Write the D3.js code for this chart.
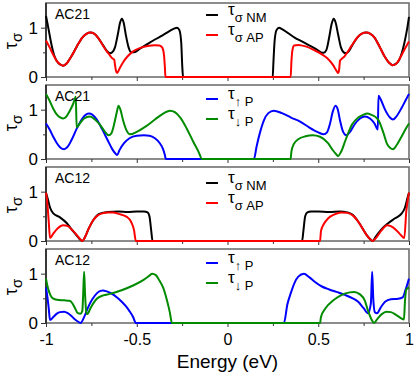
<!DOCTYPE html>
<meta charset="utf-8">
<script src="https://d3js.org/d3.v7.min.js"></script>
<title>Transmission vs energy</title>
<head>
<style>
  body { margin: 0; background: white; }
  text { font-family: "Liberation Sans", Arial, sans-serif; }
</style>
</head>
<div id="chart"></div>
<script>
// ---- data ----
var ac21NM = [[-1,1.24],[-0.985,0.95],[-0.97,0.66],[-0.955,0.44],[-0.94,0.32],[-0.92,0.25],[-0.905,0.23],[-0.885,0.28],[-0.86,0.42],[-0.83,0.62],[-0.8,0.8],[-0.775,0.88],[-0.755,0.9],[-0.735,0.88],[-0.71,0.78],[-0.685,0.64],[-0.665,0.53],[-0.648,0.48],[-0.635,0.5],[-0.62,0.6],[-0.605,0.85],[-0.592,1.1],[-0.582,1.18],[-0.572,1.1],[-0.56,0.85],[-0.545,0.6],[-0.53,0.5],[-0.515,0.5],[-0.48,0.58],[-0.44,0.67],[-0.4,0.76],[-0.36,0.84],[-0.32,0.93],[-0.295,0.98],[-0.278,1.0],[-0.265,0.95],[-0.255,0.7],[-0.249,0.2],[-0.245,0],
  [0.249,0],[0.253,0.3],[0.26,0.75],[0.27,0.95],[0.284,1.0],[0.3,0.97],[0.33,0.9],[0.37,0.8],[0.41,0.72],[0.45,0.64],[0.49,0.56],[0.515,0.5],[0.53,0.49],[0.545,0.55],[0.56,0.8],[0.574,1.08],[0.585,1.18],[0.596,1.1],[0.61,0.85],[0.625,0.6],[0.64,0.5],[0.655,0.48],[0.67,0.53],[0.69,0.66],[0.715,0.8],[0.74,0.88],[0.765,0.9],[0.785,0.88],[0.81,0.8],[0.84,0.6],[0.865,0.42],[0.89,0.29],[0.91,0.24],[0.925,0.26],[0.945,0.34],[0.96,0.48],[0.975,0.7],[0.99,0.98],[1,1.22]];
var ac21AP = [[-1,0.74],[-0.98,0.6],[-0.96,0.45],[-0.94,0.32],[-0.92,0.25],[-0.905,0.23],[-0.885,0.28],[-0.86,0.42],[-0.83,0.62],[-0.8,0.8],[-0.775,0.88],[-0.755,0.9],[-0.735,0.88],[-0.71,0.78],[-0.685,0.63],[-0.665,0.52],[-0.648,0.44],[-0.635,0.38],[-0.624,0.35],[-0.62,0.25],[-0.614,0.12],[-0.608,0.08],[-0.595,0.17],[-0.575,0.3],[-0.55,0.42],[-0.52,0.52],[-0.48,0.59],[-0.44,0.63],[-0.4,0.645],[-0.375,0.64],[-0.36,0.6],[-0.35,0.45],[-0.345,0.2],[-0.342,0],
  [0.348,0],[0.352,0.3],[0.358,0.55],[0.367,0.64],[0.39,0.65],[0.43,0.62],[0.48,0.54],[0.52,0.46],[0.55,0.38],[0.58,0.25],[0.6,0.13],[0.609,0.08],[0.615,0.15],[0.62,0.33],[0.63,0.37],[0.645,0.42],[0.66,0.5],[0.685,0.64],[0.715,0.8],[0.74,0.88],[0.765,0.9],[0.785,0.88],[0.81,0.8],[0.84,0.6],[0.865,0.42],[0.89,0.29],[0.91,0.24],[0.93,0.27],[0.95,0.38],[0.97,0.52],[1,0.72]];
var ac21Up = [[-1,0.72],[-0.98,0.6],[-0.96,0.45],[-0.94,0.32],[-0.92,0.23],[-0.9,0.2],[-0.88,0.25],[-0.86,0.38],[-0.83,0.62],[-0.8,0.82],[-0.78,0.9],[-0.763,0.92],[-0.745,0.9],[-0.72,0.8],[-0.69,0.6],[-0.66,0.38],[-0.635,0.2],[-0.615,0.1],[-0.608,0.08],[-0.595,0.18],[-0.57,0.32],[-0.54,0.42],[-0.5,0.47],[-0.46,0.48],[-0.43,0.47],[-0.4,0.42],[-0.375,0.33],[-0.355,0.2],[-0.345,0.08],[-0.34,0],
  [0.146,0],[0.16,0.25],[0.18,0.55],[0.2,0.78],[0.225,0.93],[0.255,0.98],[0.3,0.93],[0.35,0.84],[0.4,0.76],[0.45,0.64],[0.5,0.54],[0.53,0.5],[0.548,0.54],[0.565,0.72],[0.58,0.96],[0.595,1.08],[0.608,1.0],[0.62,0.78],[0.635,0.57],[0.655,0.48],[0.675,0.55],[0.7,0.7],[0.73,0.82],[0.757,0.86],[0.785,0.82],[0.81,0.72],[0.828,0.6],[0.832,1.28],[0.845,1.2],[0.868,1.0],[0.895,0.84],[0.912,0.8],[0.93,0.86],[0.96,1.04],[0.98,1.18],[1,1.32]];
var ac21Dn = [[-1,1.32],[-0.98,1.18],[-0.96,1.02],[-0.94,0.9],[-0.92,0.84],[-0.906,0.82],[-0.89,0.85],[-0.87,0.97],[-0.85,1.12],[-0.836,1.26],[-0.831,0.64],[-0.81,0.74],[-0.79,0.82],[-0.758,0.86],[-0.73,0.8],[-0.7,0.68],[-0.675,0.55],[-0.655,0.48],[-0.64,0.52],[-0.625,0.7],[-0.61,0.95],[-0.6,1.08],[-0.59,1.0],[-0.575,0.78],[-0.555,0.57],[-0.537,0.5],[-0.5,0.55],[-0.45,0.66],[-0.4,0.8],[-0.35,0.93],[-0.317,0.98],[-0.29,0.95],[-0.26,0.84],[-0.225,0.62],[-0.19,0.36],[-0.16,0.15],[-0.14,0],
  [0.348,0],[0.352,0.15],[0.365,0.3],[0.39,0.4],[0.43,0.46],[0.47,0.48],[0.51,0.45],[0.554,0.32],[0.58,0.18],[0.6,0.09],[0.609,0.06],[0.625,0.14],[0.65,0.38],[0.686,0.7],[0.72,0.84],[0.75,0.9],[0.77,0.92],[0.79,0.9],[0.83,0.8],[0.86,0.52],[0.88,0.3],[0.912,0.2],[0.935,0.3],[0.96,0.46],[0.98,0.6],[1,0.72]];

var ac12NM = [[-1,0.98],[-0.99,0.85],[-0.978,0.68],[-0.96,0.56],[-0.923,0.48],[-0.885,0.36],[-0.86,0.24],[-0.835,0.13],[-0.815,0.04],[-0.8,0],[-0.785,0.08],[-0.765,0.25],[-0.74,0.42],[-0.715,0.53],[-0.69,0.57],[-0.66,0.59],[-0.6,0.6],[-0.55,0.59],[-0.5,0.6],[-0.46,0.6],[-0.44,0.58],[-0.43,0.5],[-0.42,0.2],[-0.413,0],
  [0.411,0],[0.418,0.2],[0.428,0.5],[0.44,0.58],[0.46,0.6],[0.5,0.6],[0.56,0.59],[0.62,0.6],[0.66,0.58],[0.69,0.53],[0.715,0.42],[0.74,0.28],[0.765,0.13],[0.785,0.04],[0.8,0],[0.815,0.08],[0.84,0.2],[0.865,0.3],[0.885,0.36],[0.923,0.46],[0.96,0.56],[0.978,0.68],[0.99,0.85],[1,0.98]];
var ac12AP = [[-1,0.98],[-0.995,0.85],[-0.985,0.4],[-0.978,0.06],[-0.96,0.15],[-0.935,0.26],[-0.906,0.32],[-0.88,0.3],[-0.855,0.22],[-0.83,0.12],[-0.81,0.03],[-0.8,0],[-0.785,0.08],[-0.765,0.25],[-0.74,0.42],[-0.715,0.52],[-0.69,0.56],[-0.66,0.58],[-0.63,0.58],[-0.6,0.55],[-0.555,0.49],[-0.53,0.38],[-0.515,0.22],[-0.505,0],
  [0.51,0],[0.515,0.2],[0.53,0.34],[0.555,0.46],[0.59,0.54],[0.625,0.58],[0.66,0.57],[0.69,0.52],[0.715,0.42],[0.74,0.28],[0.765,0.13],[0.785,0.04],[0.8,0],[0.82,0.07],[0.85,0.22],[0.88,0.32],[0.9,0.3],[0.93,0.22],[0.955,0.12],[0.974,0.06],[0.985,0.6],[1,0.98]];
var ac12Up = [[-1,0.72],[-0.995,0.6],[-0.985,0.3],[-0.978,0.06],[-0.96,0.12],[-0.94,0.19],[-0.923,0.22],[-0.9,0.23],[-0.88,0.2],[-0.86,0.14],[-0.84,0.07],[-0.82,0.02],[-0.81,0],[-0.79,0.12],[-0.77,0.3],[-0.745,0.48],[-0.72,0.6],[-0.7,0.65],[-0.686,0.66],[-0.665,0.64],[-0.64,0.6],[-0.61,0.52],[-0.58,0.42],[-0.56,0.34],[-0.54,0.24],[-0.52,0.12],[-0.505,0],
  [0.311,0],[0.33,0.38],[0.35,0.62],[0.37,0.82],[0.39,0.94],[0.421,1.0],[0.45,0.93],[0.482,0.83],[0.52,0.74],[0.56,0.68],[0.6,0.63],[0.647,0.57],[0.69,0.5],[0.72,0.43],[0.75,0.3],[0.774,0.2],[0.79,0.4],[0.797,1.04],[0.803,0.5],[0.812,0.22],[0.824,0.2],[0.845,0.32],[0.868,0.43],[0.9,0.48],[0.94,0.49],[0.965,0.52],[0.98,0.66],[1,0.9]];
var ac12Dn = [[-1,0.9],[-0.99,0.72],[-0.975,0.56],[-0.962,0.5],[-0.94,0.47],[-0.9,0.46],[-0.87,0.45],[-0.855,0.4],[-0.84,0.3],[-0.825,0.2],[-0.81,0.19],[-0.8,0.24],[-0.795,0.6],[-0.79,1.04],[-0.785,0.6],[-0.778,0.22],[-0.772,0.18],[-0.755,0.3],[-0.72,0.49],[-0.685,0.56],[-0.647,0.59],[-0.58,0.67],[-0.52,0.76],[-0.46,0.88],[-0.43,0.96],[-0.415,1.0],[-0.395,0.97],[-0.375,0.86],[-0.355,0.72],[-0.335,0.48],[-0.318,0.22],[-0.306,0],
  [0.51,0],[0.515,0.12],[0.54,0.3],[0.58,0.45],[0.61,0.53],[0.65,0.6],[0.697,0.63],[0.73,0.58],[0.756,0.46],[0.774,0.25],[0.795,0.06],[0.807,0],[0.825,0.08],[0.85,0.18],[0.875,0.23],[0.9,0.22],[0.93,0.16],[0.955,0.1],[0.972,0.07],[0.978,0.45],[0.985,0.68],[1,0.72]];

var panelNames = ["AC21", "AC21", "AC12", "AC12"];
var xTicks = [-1, -0.5, 0, 0.5, 1];
var xMinor = [-0.75, -0.25, 0.25, 0.75];
var yTicks = [0, 1];
var yMinor = [0.5];

var panels = [
  { name: panelNames[0], series: [
      { data: ac21NM, color: "#000000", sub: "\u03c3 NM" },
      { data: ac21AP, color: "#ff0000", sub: "\u03c3 AP" } ] },
  { name: panelNames[1], series: [
      { data: ac21Up, color: "#0000ff", sub: "\u2191 P" },
      { data: ac21Dn, color: "#008b00", sub: "\u2193 P" } ] },
  { name: panelNames[2], series: [
      { data: ac12NM, color: "#000000", sub: "\u03c3 NM" },
      { data: ac12AP, color: "#ff0000", sub: "\u03c3 AP" } ] },
  { name: panelNames[3], series: [
      { data: ac12Up, color: "#0000ff", sub: "\u2191 P" },
      { data: ac12Dn, color: "#008b00", sub: "\u2193 P" } ] }
];

var width = 415, height = 376;
var left = 46, right = 409, panelH = 74;
var legendOff = [12, 14, 16, 14];

var svg = d3.select("#chart").append("svg")
    .attr("width", width)
    .attr("height", height);

var x = d3.scaleLinear().domain([-1, 1]).range([left, right]);

var line = d3.line()
    .x(function(d) { return x(d[0]); })
    .curve(d3.curveMonotoneX);

panels.forEach(function(p, i) {
  var top = 3 + i * 82;
  var y = d3.scaleLinear().domain([0, 1.5]).range([top + panelH, top]);
  var g = svg.append("g");

  // frame
  g.append("rect")
      .attr("x", left).attr("y", top)
      .attr("width", right - left).attr("height", panelH)
      .attr("fill", "none")
      .attr("stroke", "#707070")
      .attr("stroke-width", 1.6);
  g.append("line")
      .attr("x1", left).attr("x2", left)
      .attr("y1", top).attr("y2", top + panelH)
      .attr("stroke", "#000").attr("stroke-width", 1.2);

  // x axis ticks
  var xa = g.append("g").attr("transform", "translate(0," + (top + panelH) + ")")
      .call(d3.axisBottom(x).tickValues(xTicks).tickSize(4).tickSizeOuter(0)
        .tickFormat(i == 3 ? function(d) { return d3.format("")(d).replace("\u2212", "-"); } : ""));
  var xm = g.append("g").attr("transform", "translate(0," + (top + panelH) + ")")
      .call(d3.axisBottom(x).tickValues(xMinor).tickSize(3).tickFormat(""));
  [xa, xm].forEach(function(a) {
    a.select(".domain").remove();
    a.selectAll(".tick line").attr("stroke", "#333");
  });
  xa.selectAll("text").attr("font-size", 16).attr("fill", "#000")
      .attr("font-family", "Liberation Sans, Arial, sans-serif").attr("dy", "0.95em");

  // y axis ticks
  var ya = g.append("g").attr("transform", "translate(" + left + ",0)")
      .call(d3.axisLeft(y).tickValues(yTicks).tickSize(5).tickPadding(3).tickFormat(d3.format("d")));
  var ym = g.append("g").attr("transform", "translate(" + left + ",0)")
      .call(d3.axisLeft(y).tickValues(yMinor).tickSize(3).tickFormat(""));
  [ya, ym].forEach(function(a) {
    a.select(".domain").remove();
    a.selectAll(".tick line").attr("stroke", "#333");
  });
  ya.selectAll("text").attr("font-size", 17).attr("fill", "#000")
      .attr("font-family", "Liberation Sans, Arial, sans-serif");

  // curves
  p.series.forEach(function(s) {
    g.append("path")
        .datum(s.data)
        .attr("fill", "none")
        .attr("stroke", s.color)
        .attr("stroke-width", 2)
        .attr("stroke-linejoin", "round")
        .attr("d", line.y(function(d) { return y(d[1]); }));
  });

  // panel name
  g.append("text")
      .attr("x", 55).attr("y", top + 16)
      .attr("font-size", 14)
      .text(p.name);

  // y label
  var yl = g.append("text")
      .attr("transform", "translate(17," + (top + 38) + ") rotate(-90)")
      .attr("text-anchor", "middle")
      .attr("font-size", 18);
  yl.append("tspan").text("\u03c4");
  yl.append("tspan").attr("dy", 5).attr("font-size", 15).text("\u03c3");

  // legend
  p.series.forEach(function(s, k) {
    var ly = top + legendOff[i] + k * 20;
    g.append("line")
        .attr("x1", 206).attr("x2", 218)
        .attr("y1", ly).attr("y2", ly)
        .attr("stroke", s.color).attr("stroke-width", 2);
    var t = g.append("text").attr("x", 228).attr("y", ly).attr("font-size", 17);
    t.append("tspan").text("\u03c4");
    t.append("tspan").attr("dy", 7).attr("font-size", 13).text(s.sub);
  });
});

svg.append("text")
    .attr("x", x(0)).attr("y", 368)
    .attr("text-anchor", "middle")
    .attr("font-size", 19)
    .text("Energy (eV)");
</script>
